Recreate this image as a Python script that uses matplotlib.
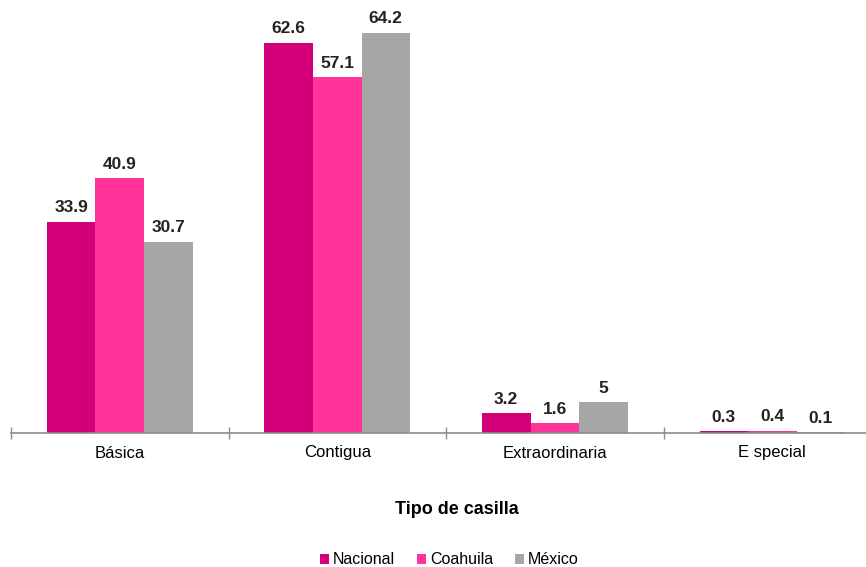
import matplotlib.pyplot as plt
import numpy as np

plt.rcParams["font.family"] = ["Liberation Sans", "DejaVu Sans"]

categories = ["Básica", "Contigua", "Extraordinaria", "E special"]
series_names = ["Nacional", "Coahuila", "México"]
nacional = [33.9, 62.6, 3.2, 0.3]
coahuila = [40.9, 57.1, 1.6, 0.4]
mexico = [30.7, 64.2, 5, 0.1]
value_labels = [
    ["33.9", "62.6", "3.2", "0.3"],
    ["40.9", "57.1", "1.6", "0.4"],
    ["30.7", "64.2", "5", "0.1"],
]
colors = ["#D4007A", "#FF3399", "#A6A6A6"]

fig = plt.figure(figsize=(8.66, 5.67), dpi=100)
ax = fig.add_axes([11 / 866, 134 / 567, 855 / 866, 424 / 567])

x = np.arange(len(categories))
w = 0.223
for i, (vals, name) in enumerate(zip([nacional, coahuila, mexico], series_names)):
    bars = ax.bar(x + (i - 1) * w, vals, width=w, color=colors[i], label=name)
    for b, lab in zip(bars, value_labels[i]):
        ax.text(b.get_x() + b.get_width() / 2, b.get_height() + 1.0, lab,
                ha="center", va="bottom", fontsize=12.5, fontweight="bold",
                color="#222222")

for s in ["top", "right", "left"]:
    ax.spines[s].set_visible(False)
ax.spines["bottom"].set_color("#8C8C8C")
ax.spines["bottom"].set_linewidth(1.2)
ax.set_yticks([])

ax.set_xticks(x)
ax.set_xticklabels(categories, fontsize=12)
ax.tick_params(axis="x", which="major", length=0, pad=9)
ax.set_xticks(np.arange(-0.5, 3.0, 1.0), minor=True)
ax.tick_params(axis="x", which="minor", length=9, direction="inout",
               color="#8C8C8C", width=1)

# limits set after the ticks so they are not widened
ax.set_xlim(-0.5, 3.431)
ax.set_ylim(0, 68)

fig.text(0.527, 1 - 510 / 567, "Tipo de casilla", ha="center", va="center",
         fontsize=13, fontweight="bold")

fig.legend(loc="center", bbox_to_anchor=(0.519, 1 - 560 / 567), ncol=3,
           frameon=False, fontsize=11.5, handlelength=0.55, handleheight=0.55,
           handletextpad=0.25, columnspacing=1.4)

fig.savefig("out.png", dpi=100)
